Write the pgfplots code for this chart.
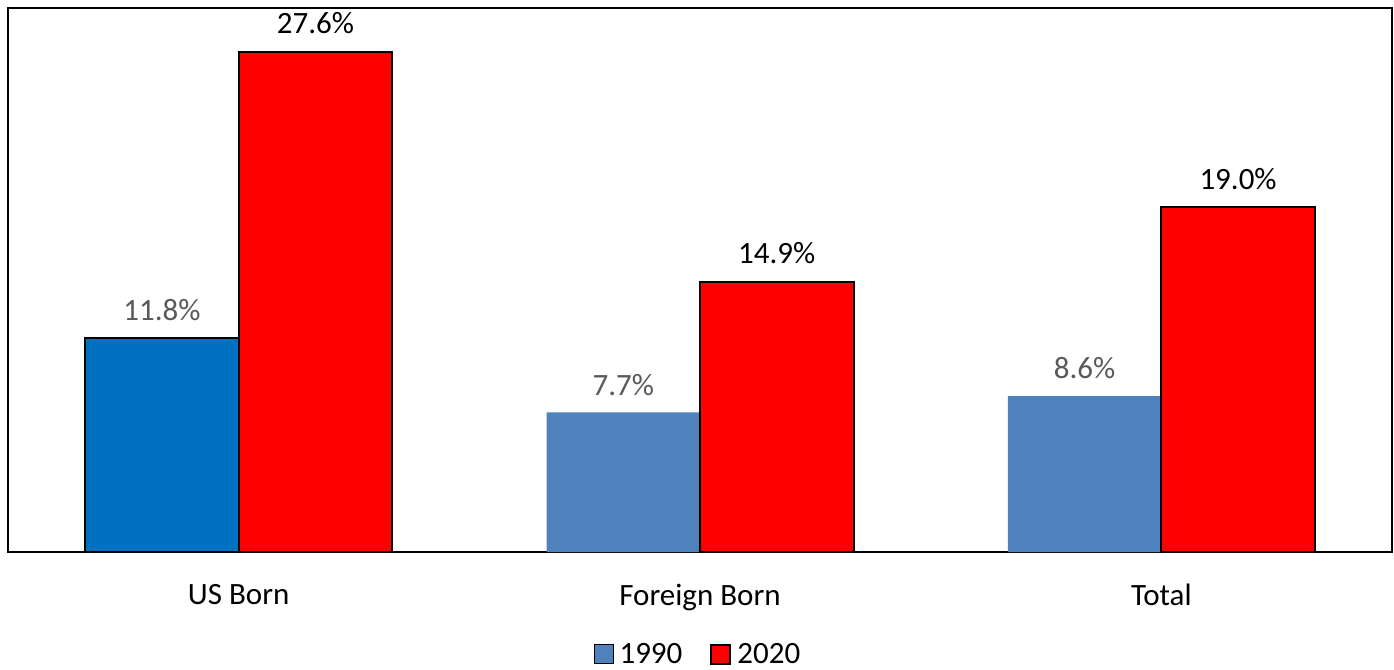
\documentclass[border=0pt]{standalone}
\usepackage{pgfplots}
\pgfplotsset{compat=1.18}
\usepackage{fontspec}
\setmainfont{Carlito}
\definecolor{steel}{HTML}{4F81BD}
\definecolor{dblue}{HTML}{0070C0}
\definecolor{lgray}{HTML}{595959}
\begin{document}
\begin{tikzpicture}
\useasboundingbox (0,0) rectangle (697pt,335pt);
\begin{axis}[
  at={(4pt,59pt)}, anchor=south west,
  scale only axis, width=692pt, height=272pt,
  xmin=-0.5, xmax=2.5, ymin=0, ymax=30,
  ybar=0pt, bar width=76.75pt,
  axis line style={line width=1pt},
  xtick={0,1,2}, xticklabels={US Born, Foreign Born, Total},
  major tick length=0pt,
  xticklabel style={font=\fontsize{15.5}{18}\selectfont, yshift=-12.5pt},
  ytick=\empty,
  /pgf/number format/assume math mode=true,
  nodes near coords={\pgfmathprintnumber[fixed,fixed zerofill,precision=1]{\pgfplotspointmeta}\%},
  every node near coord/.append style={font=\fontsize{15.5}{18}\selectfont, yshift=5pt},
  legend style={at={(0.5,-0.189)}, anchor=center, draw=none, legend columns=2,
    font=\fontsize{15.5}{18}\selectfont, /tikz/every even column/.append style={column sep=11pt},
    inner sep=0pt, nodes={inner xsep=3pt}},
  legend image code/.code={\draw[#1] (0pt,-4.5pt) rectangle (9.5pt,5pt);},
]
\addplot[fill=steel, draw=none, bar shift=-38.375pt,
  every node near coord/.append style={text=lgray}] coordinates {(1,7.7) (2,8.6)};
\addlegendentry{1990}
\addplot[fill=red, draw=black, line width=1pt, bar shift=38.375pt,
  every node near coord/.append style={text=black}] coordinates {(0,27.6) (1,14.9) (2,19.0)};
\addlegendentry{2020}
\addplot[fill=dblue, draw=black, line width=1pt, bar shift=-38.375pt, forget plot,
  every node near coord/.append style={text=lgray}] coordinates {(0,11.8)};
\end{axis}
\end{tikzpicture}
\end{document}
